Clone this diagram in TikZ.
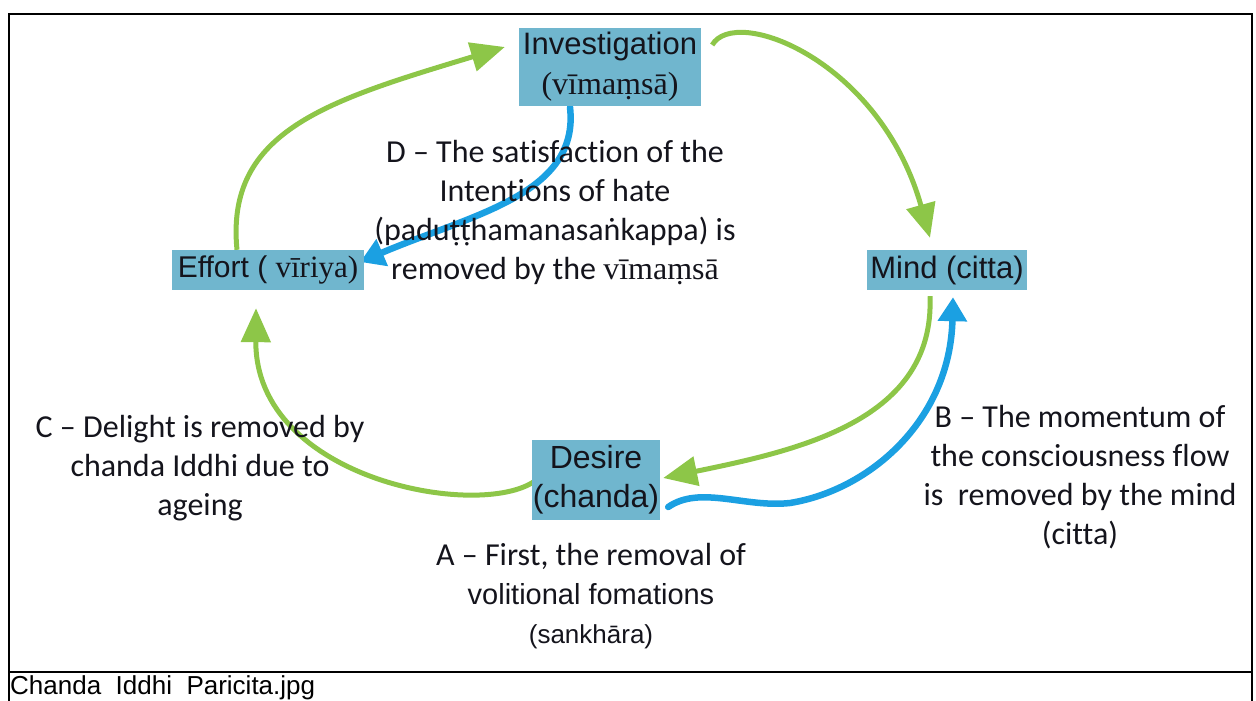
\documentclass[tikz,border=0pt]{standalone}
\usepackage{fontspec}
\setmainfont{Liberation Sans}
\newfontfamily\arial{Liberation Sans}
\newfontfamily\tnr{Liberation Serif}
\newfontfamily\calib[Ligatures=NoCommon]{Carlito}
\usetikzlibrary{arrows.meta,calc,backgrounds}
\definecolor{boxblue}{RGB}{112,182,206}
\definecolor{leafgreen}{RGB}{141,198,72}
\definecolor{flowblue}{RGB}{27,160,226}
\definecolor{ink}{RGB}{20,20,28}

\begin{document}
\begin{tikzpicture}[x=1pt,y=-1pt,
  conceptbox/.style={fill=boxblue, inner sep=0pt, text=ink, align=center},
  notetext/.style={text=ink, align=center, inner sep=0pt,
    font=\calib\fontsize{32}{39}\selectfont},
  greenflow/.style={draw=leafgreen, line width=5pt,
    -{Triangle[length=34pt,width=29pt]}},
  blueflow/.style={draw=flowblue, line width=6.5pt, line cap=round,
    -{Triangle[length=24pt,width=28pt]}},
  frameline/.style={draw=black, line width=2pt}]

\useasboundingbox (0,0) rectangle (1256,701);

% outer frame and caption row
\draw[frameline] (9,701) -- (9,14) -- (1252,14) -- (1252,701);
\draw[frameline] (9,672) -- (1252,672);
\node[anchor=west, inner sep=0pt, text=black,
  font=\arial\fontsize{26}{30}\selectfont] (caption) at (10,688)
  {Chanda\ \ Iddhi\ \ Paricita.jpg};

% the four stages of the cycle
\node[conceptbox, minimum width=182pt, minimum height=78pt,
  font=\fontsize{31}{40}\selectfont] (inv) at (610,67)
  {{\arial Investigation}\\{\tnr\fontsize{32}{40}\selectfont (vīmaṃsā)}};
\node[conceptbox, minimum width=192pt, minimum height=40pt,
  font=\arial\fontsize{30}{36}\selectfont] (eff) at (268,270)
  {Effort ( {\tnr\fontsize{31}{36}\selectfont vīriya)}};
\node[conceptbox, minimum width=160pt, minimum height=40pt,
  font=\arial\fontsize{31}{36}\selectfont] (mind) at (947,270)
  {Mind (citta)};
\node[conceptbox, minimum width=128pt, minimum height=80pt,
  font=\arial\fontsize{32}{39}\selectfont] (des) at (596,480)
  {Desire\\(chanda)};

% explanatory notes
\node[notetext] (labD) at (555,213)
  {D – The satisfaction of the\\Intentions of hate\\(paduṭṭhamanasaṅkappa) is\\removed by the {\tnr vīmaṃsā}};
\node[notetext] (labC) at (200,468)
  {C – Delight is removed by\\chanda Iddhi due to\\ageing};
\node[notetext] (labB) at (1080,477)
  {B – The momentum of\\the consciousness flow\\is\ \ removed by the mind\\(citta)};
\node[notetext, font=\arial\fontsize{26}{39}\selectfont] (labA) at (591,596)
  {{\calib\fontsize{32}{39}\selectfont A – First, the removal of}\\{\fontsize{29}{39}\selectfont volitional fomations}\\(sankhāra)};

\coordinate (wave) at (790,503);

\begin{scope}[on background layer]
  % green cycle: effort -> investigation -> mind -> desire -> effort
  \draw[greenflow] ($(eff.north)+(-31,0)$) .. controls (225,130) and (330,100) .. ($(inv.west)+(-14,-20)$);
  \draw[greenflow] ($(inv.east)+(11,-22)$) .. controls (735,5) and (880,60) .. ($(mind.north)+(-17,-12)$);
  \draw[greenflow] ($(mind.south)+(-17,6)$) .. controls (935,420) and (800,450) .. ($(des.east)+(3,-2)$);
  \draw[greenflow] ($(des.west)+(3,1)$) .. controls (480,520) and (255,480) .. ($(eff.south)+(-12,18)$);
  % blue removals
  \draw[blueflow] ($(inv.south)+(-40,1)$) .. controls (580,195) and (470,215) .. ($(eff.east)+(-4,-8)$);
  \draw[blueflow] ($(des.east)+(8,27)$) .. controls (700,485) and (745,508) .. (wave)
     .. controls (870,490) and (950,420) .. ($(mind.south)+(6,7)$);
\end{scope}
\end{tikzpicture}
\end{document}
